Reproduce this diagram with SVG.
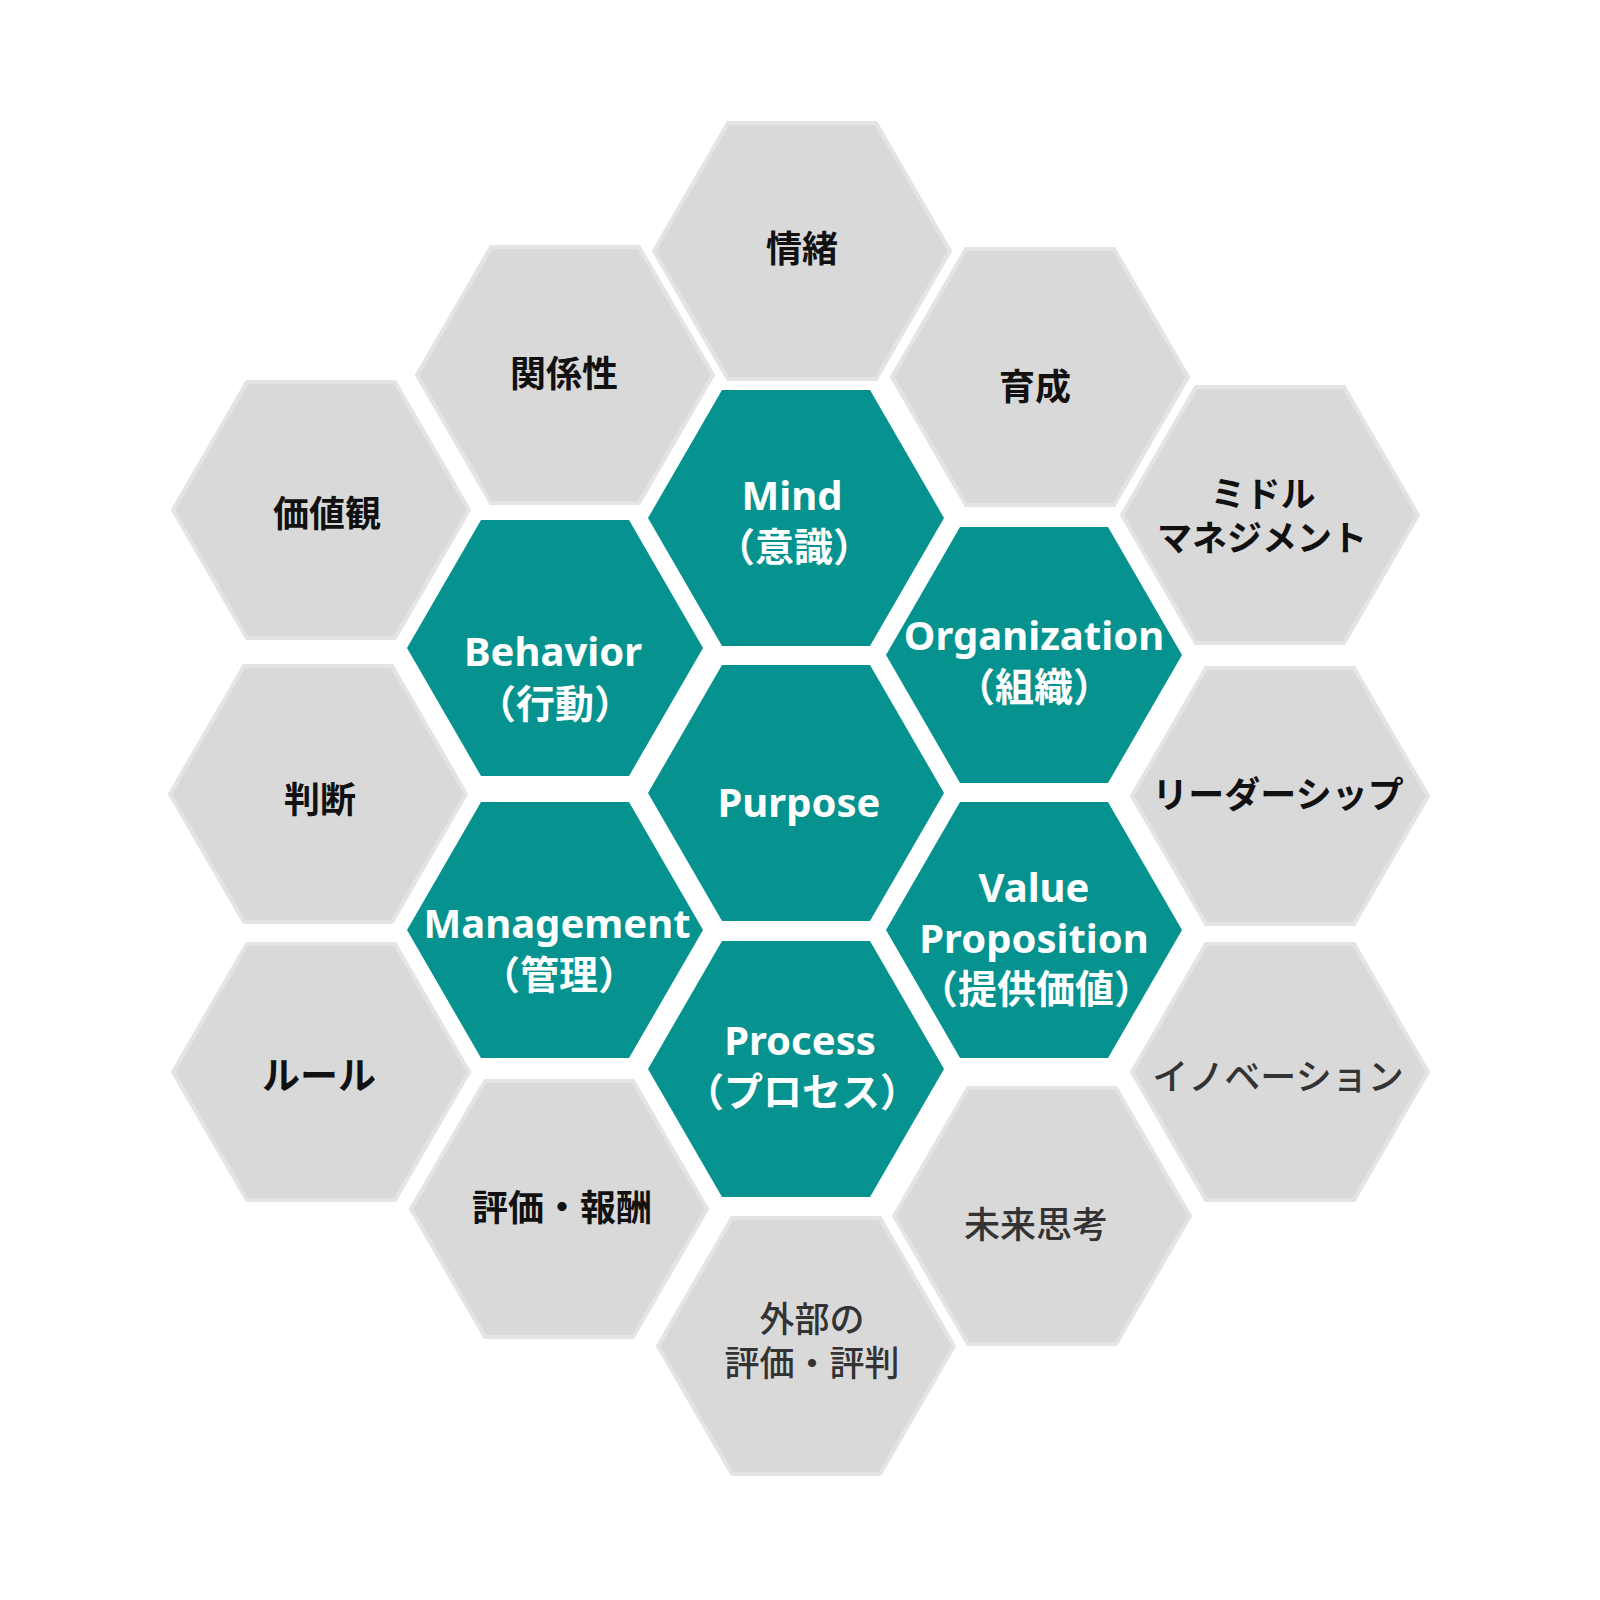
<svg xmlns="http://www.w3.org/2000/svg" xmlns:xlink="http://www.w3.org/1999/xlink" width="1600" height="1600" viewBox="0 0 1600 1600">
  <style>
    .teal { fill: #06938F; }
    .gray { fill: #D9D9D9; stroke: #E4E4E4; stroke-width: 4; }
    text { font-family: "Noto Sans", "Noto Sans CJK JP", sans-serif; text-anchor: middle; dominant-baseline: central; }
    .tl { fill: #FFFFFF; font-size: 40px; font-weight: 700; }
    .tj { fill: #FFFFFF; font-size: 39px; font-weight: 700; font-family: "Noto Sans CJK JP", sans-serif; }
    .gb { fill: #111111; font-size: 36px; font-weight: 700; font-family: "Noto Sans CJK JP", sans-serif; }
    .gm { fill: #333333; font-size: 36px; font-weight: 500; font-family: "Noto Sans CJK JP", sans-serif; }
    .g2 { font-size: 35px; }
  </style>
  <defs>
    <path id="hex" d="M-74,-128 L74,-128 L148,0 L74,128 L-74,128 L-148,0 Z"/>
  </defs>
  <rect width="1600" height="1600" fill="#FFFFFF"/>
  <g id="connectors"/>

  <!-- gray outer ring -->
  <g id="n-jocho"><use href="#hex" x="802" y="251" class="gray"/><text x="802" y="246" class="gb">情緒</text></g>
  <g id="n-kankeisei"><use href="#hex" x="565" y="375" class="gray"/><text x="564" y="371" class="gb">関係性</text></g>
  <g id="n-ikusei"><use href="#hex" x="1040" y="377" class="gray"/><text x="1035" y="384" class="gb">育成</text></g>
  <g id="n-kachikan"><use href="#hex" x="321" y="510" class="gray"/><text x="327" y="511" class="gb">価値観</text></g>
  <g id="n-middle"><use href="#hex" x="1270" y="515" class="gray"/><text x="1263" y="491" class="gb g2">ミドル</text><text x="1262" y="535" class="gb g2">マネジメント</text></g>
  <g id="n-handan"><use href="#hex" x="318" y="794" class="gray"/><text x="320" y="797" class="gb">判断</text></g>
  <g id="n-leadership"><use href="#hex" x="1280" y="796" class="gray"/><text x="1278" y="792" class="gb">リーダーシップ</text></g>
  <g id="n-rule"><use href="#hex" x="321" y="1072" class="gray"/><text x="319" y="1072" class="gb" style="font-size:38px">ルール</text></g>
  <g id="n-innovation"><use href="#hex" x="1280" y="1072" class="gray"/><text x="1278" y="1074" class="gm">イノベーション</text></g>
  <g id="n-hyoka"><use href="#hex" x="559" y="1209" class="gray"/><text x="562" y="1205" class="gb">評価・報酬</text></g>
  <g id="n-mirai"><use href="#hex" x="1042" y="1216" class="gray"/><text x="1036" y="1222" class="gm">未来思考</text></g>
  <g id="n-gaibu"><use href="#hex" x="806" y="1346" class="gray"/><text x="812" y="1316" class="gm g2">外部の</text><text x="812" y="1360" class="gm g2">評価・評判</text></g>

  <!-- teal core -->
  <g id="n-mind"><use href="#hex" x="796" y="518" class="teal"/><text x="792" y="494" class="tl">Mind</text><text x="794" y="544" class="tj">（意識）</text></g>
  <g id="n-behavior"><use href="#hex" x="555" y="648" class="teal"/><text x="553" y="650" class="tl">Behavior</text><text x="555" y="701" class="tj">（行動）</text></g>
  <g id="n-organization"><use href="#hex" x="1034" y="655" class="teal"/><text x="1034" y="634" class="tl">Organization</text><text x="1034" y="684" class="tj">（組織）</text></g>
  <g id="n-purpose"><use href="#hex" x="796" y="793" class="teal"/><text x="799" y="801" class="tl">Purpose</text></g>
  <g id="n-value"><use href="#hex" x="1034" y="930" class="teal"/><text x="1034" y="886" class="tl">Value</text><text x="1034" y="937" class="tl">Proposition</text><text x="1036" y="986" class="tj">（提供価値）</text></g>
  <g id="n-management"><use href="#hex" x="555" y="930" class="teal"/><text x="557" y="922" class="tl">Management</text><text x="559" y="972" class="tj">（管理）</text></g>
  <g id="n-process"><use href="#hex" x="796" y="1069" class="teal"/><text x="800" y="1039" class="tl">Process</text><text x="802" y="1089" class="tj">（プロセス）</text></g>
</svg>
